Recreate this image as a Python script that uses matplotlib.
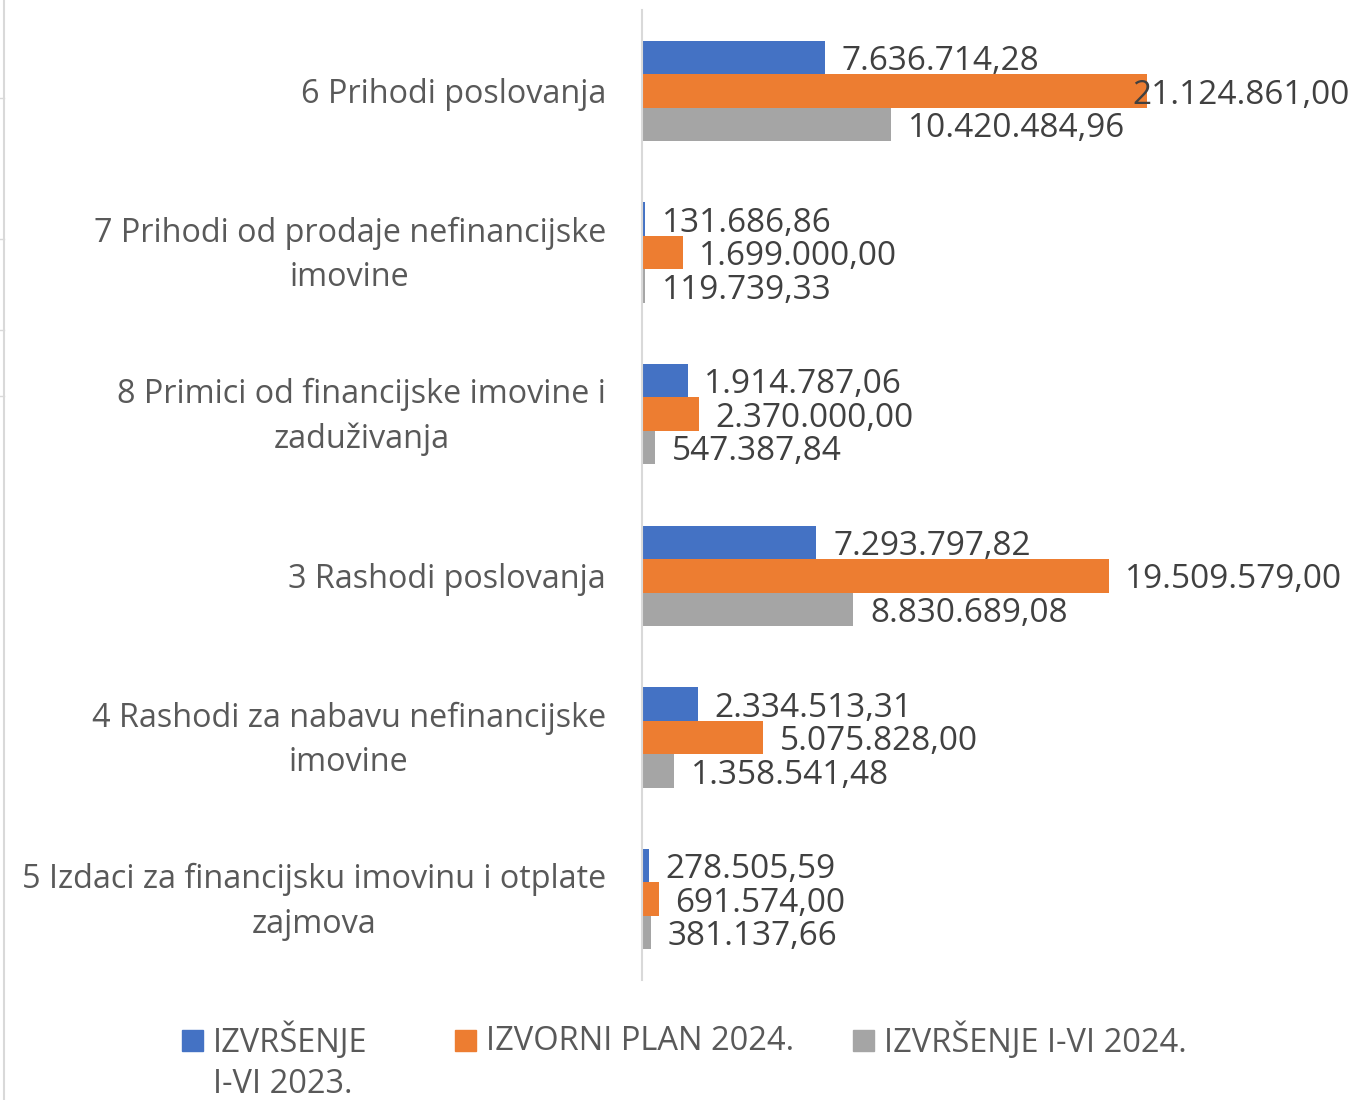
import matplotlib.pyplot as plt
import matplotlib.transforms as mtransforms
from matplotlib.patches import Rectangle
from matplotlib.lines import Line2D
import numpy as np

# data
categories = [
    '6 Prihodi poslovanja',
    '7 Prihodi od prodaje nefinancijske\nimovine',
    '8 Primici od financijske imovine i\nzaduživanja',
    '3 Rashodi poslovanja',
    '4 Rashodi za nabavu nefinancijske\nimovine',
    '5 Izdaci za financijsku imovinu i otplate\nzajmova',
]
izvrsenje_2023 = [7636714.28, 131686.86, 1914787.06, 7293797.82, 2334513.31, 278505.59]
plan_2024 = [21124861.00, 1699000.00, 2370000.00, 19509579.00, 5075828.00, 691574.00]
izvrsenje_2024 = [10420484.96, 119739.33, 547387.84, 8830689.08, 1358541.48, 381137.66]
series_names = ['IZVRŠENJE\nI-VI 2023.', 'IZVORNI PLAN 2024.', 'IZVRŠENJE I-VI 2024.']
colors = ['#4472C4', '#ED7D31', '#A5A5A5']

plt.rcParams['font.family'] = ['Open Sans', 'DejaVu Sans']


def hr_fmt(v):
    s = f'{v:,.2f}'
    return s.replace(',', 'X').replace('.', ',').replace('X', '.')


W, H = 1358, 1100
fig = plt.figure(figsize=(W / 100, H / 100), dpi=100)
ax_left, ax_right = 642, 1350
ax_top, ax_bot = 10, 980
ax = fig.add_axes([ax_left / W, 1 - ax_bot / H, (ax_right - ax_left) / W, (ax_bot - ax_top) / H])

xmax = 29.6e6
ax.set_xlim(0, xmax)
ax.set_ylim(len(categories) - 0.5, -0.5)

y = np.arange(len(categories))
bh = 0.207
all_series = [izvrsenje_2023, plan_2024, izvrsenje_2024]
for i, (vals, col) in enumerate(zip(all_series, colors)):
    pos = y + (i - 1) * bh
    ax.barh(pos, vals, height=bh, color=col)
    for p, v in zip(pos, vals):
        txt = hr_fmt(v)
        if v > 20e6:
            ax.annotate(txt, (1.0, p), xycoords=ax.get_yaxis_transform(), xytext=(0, -3),
                        textcoords='offset points', ha='right', va='center',
                        fontsize=24, color='#404040', annotation_clip=False)
        else:
            ax.annotate(txt, (v, p), xytext=(12, -3), textcoords='offset points',
                        ha='left', va='center', fontsize=24, color='#404040')

ax.set_yticks(y)
ax.set_yticklabels(categories, fontsize=23.3, color='#595959', multialignment='center',
                   linespacing=1.45)
ax.tick_params(axis='y', length=0, pad=26)
# two-line labels sit a little high in the original
shift = mtransforms.ScaledTranslation(0, 5 / 72, fig.dpi_scale_trans)
for lab in ax.get_yticklabels():
    if '\n' in lab.get_text():
        lab.set_transform(lab.get_transform() + shift)
ax.set_xticks([])
for s in ['top', 'right', 'bottom']:
    ax.spines[s].set_visible(False)
ax.spines['left'].set_color('#d9d9d9')
ax.spines['left'].set_linewidth(1.5)

# legend drawn by hand so the marker sits on the first line
leg_x = [182, 455, 853]
for lx, name, col in zip(leg_x, series_names, colors):
    fig.patches.append(Rectangle((lx / W, 1 - 1051 / H), 21 / W, 21 / H,
                                 transform=fig.transFigure, color=col))
    if '\n' in name:
        fig.text((lx + 31) / W, 1 - 1022 / H, name, fontsize=23.5, color='#595959',
                 ha='left', va='top', linespacing=1.35)
    else:
        fig.text((lx + 31) / W, 1 - 1041 / H, name, fontsize=23.5, color='#595959',
                 ha='left', va='center')

# faint border remnant at the left edge
fig.add_artist(Line2D([4 / W, 4 / W], [0, 1], transform=fig.transFigure, color='#d9d9d9', lw=1.5))
for ty in [98, 239, 330, 396]:
    fig.add_artist(Line2D([0, 4 / W], [1 - ty / H, 1 - ty / H], transform=fig.transFigure,
                          color='#d9d9d9', lw=1))

fig.savefig('out.png', dpi=100)
